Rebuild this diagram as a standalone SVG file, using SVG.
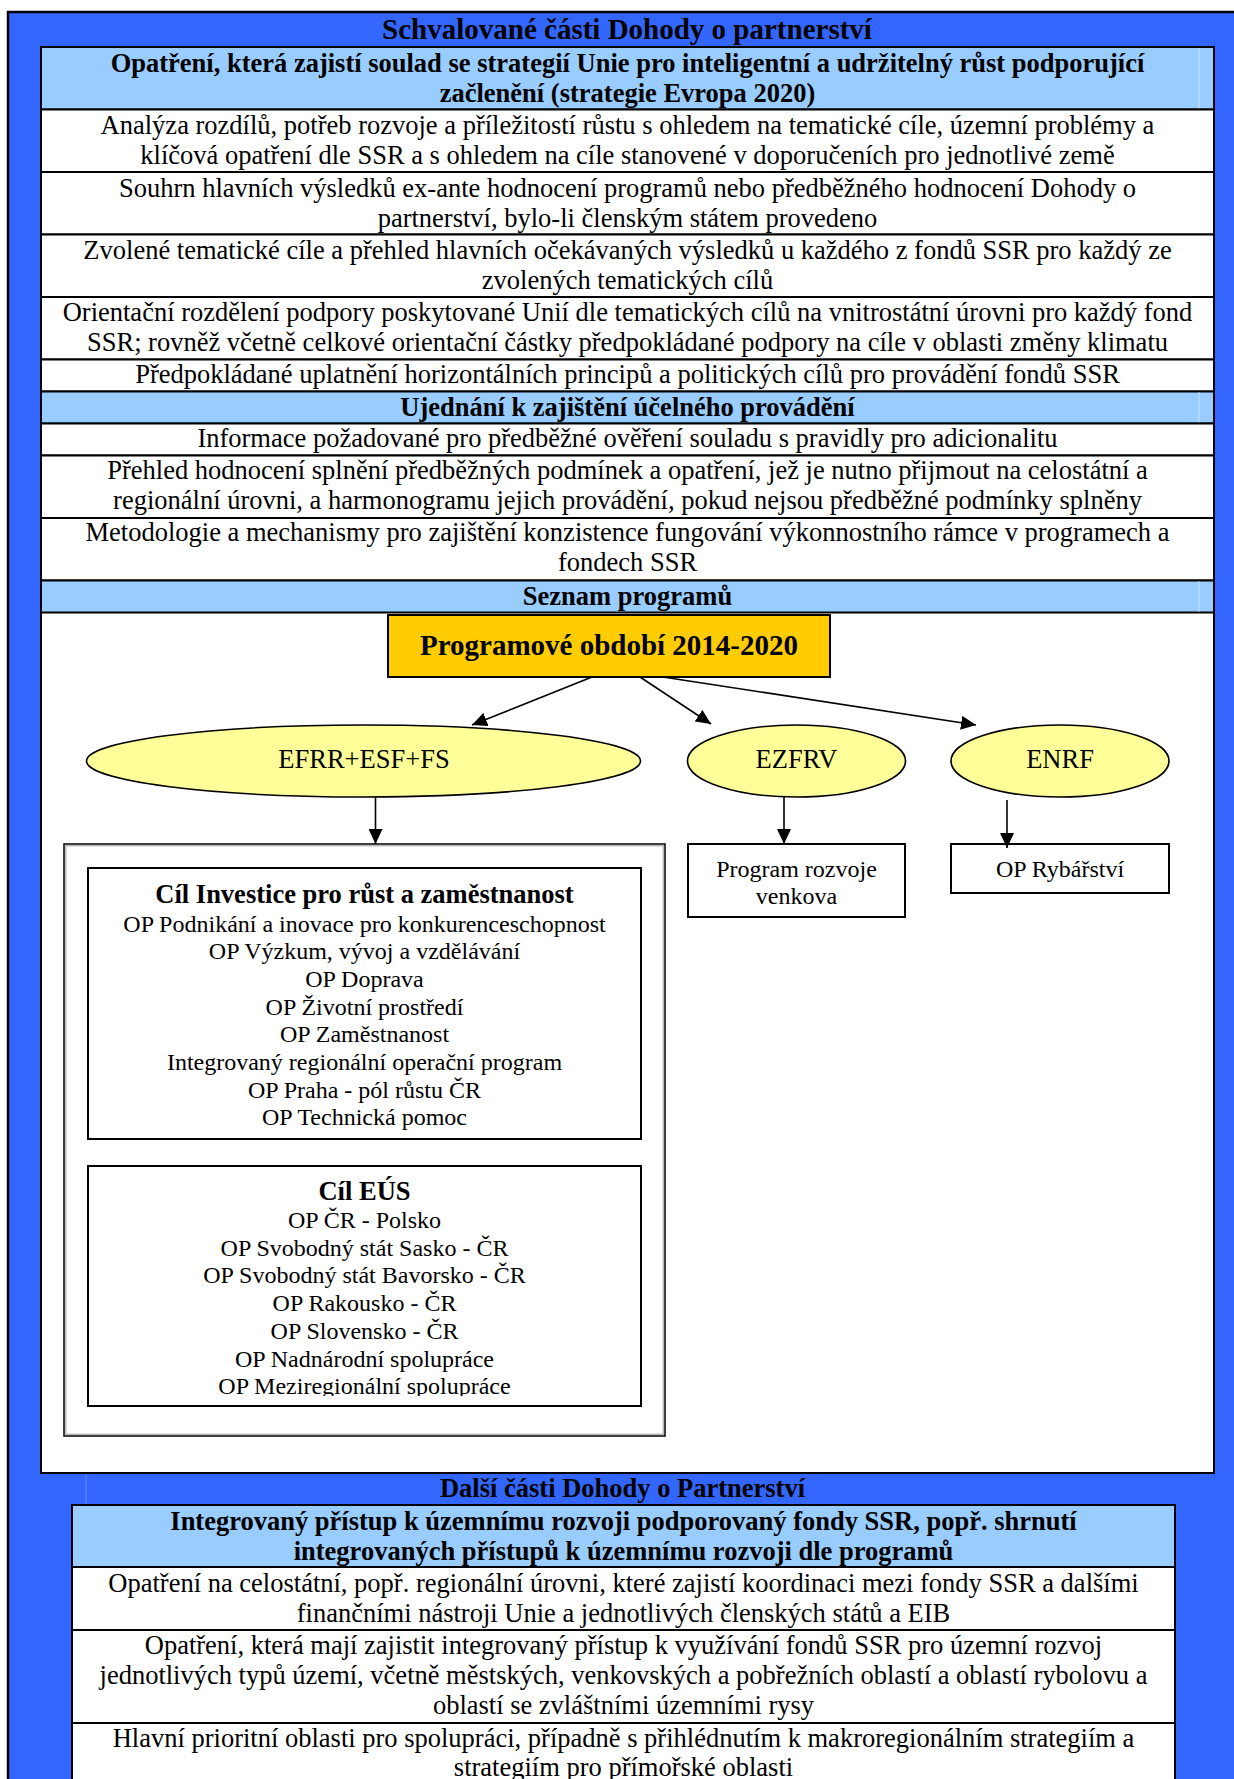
<svg xmlns="http://www.w3.org/2000/svg" width="1234" height="1779" viewBox="0 0 1234 1779">
<style>
  text { font-family: "Liberation Serif", "Times New Roman", serif; fill: #000; }
  .t { font-size: 26.5px; text-anchor: middle; }
  .b { font-weight: bold; }
  .s { font-size: 24px; text-anchor: middle; }
  .tt { font-size: 29px; font-weight: bold; text-anchor: middle; }
  .cell { fill: #FFFFFF; stroke: #000; stroke-width: 2; }
  .hdr { fill: #99CCFF; stroke: #000; stroke-width: 2; }
  .ell { fill: #FFFF99; stroke: #000; stroke-width: 1.6; }
  .box { fill: #FFFFFF; stroke: #000; stroke-width: 2; }
  .conn { stroke: #000; stroke-width: 1.6; fill: none; marker-end: url(#ah); }
  .faint { stroke: #B8DCFF; stroke-width: 1.5; }
  .faintb { stroke: #5583FF; stroke-width: 1.5; }
</style>
<defs>
  <marker id="ah" viewBox="0 0 15 14" refX="15" refY="7" markerWidth="15" markerHeight="14" markerUnits="userSpaceOnUse" orient="auto">
    <path d="M0,0 L15,7 L0,14 z" fill="#000"/>
  </marker>
  <clipPath id="eusClip"><rect x="88" y="1166" width="553" height="230"/></clipPath>
</defs>

<g id="frame">
  <rect x="8" y="12" width="1240" height="1790" fill="#3366FF" stroke="#000" stroke-width="2.5"/>
  <text class="tt" x="627" y="39">Schvalované části Dohody o partnerství</text>
</g>

<g id="table-approved">
  <rect class="cell" x="41" y="47" width="1173" height="1426" stroke-width="2.5"/>
  <rect class="hdr" x="41" y="47" width="1173" height="62.5"/>
  <line class="faint" x1="1199" y1="48" x2="1199" y2="108.5"/>
  <text class="t b" x="627.5" y="71.5">Opatření, která zajistí soulad se strategií Unie pro inteligentní a udržitelný růst podporující</text>
  <text class="t b" x="627.5" y="101.5">začlenění (strategie Evropa 2020)</text>

  <rect class="cell" x="41" y="109.5" width="1173" height="62.5"/>
  <text class="t" x="627.5" y="134">Analýza rozdílů, potřeb rozvoje a příležitostí růstu s ohledem na tematické cíle, územní problémy a</text>
  <text class="t" x="627.5" y="164">klíčová opatření dle SSR a s ohledem na cíle stanovené v doporučeních pro jednotlivé země</text>

  <rect class="cell" x="41" y="172" width="1173" height="62.5"/>
  <text class="t" x="627.5" y="196.5">Souhrn hlavních výsledků ex-ante hodnocení programů nebo předběžného hodnocení Dohody o</text>
  <text class="t" x="627.5" y="226.5">partnerství, bylo-li členským státem provedeno</text>

  <rect class="cell" x="41" y="234.5" width="1173" height="62.5"/>
  <text class="t" x="627.5" y="258.5">Zvolené tematické cíle a přehled hlavních očekávaných výsledků u každého z fondů SSR pro každý ze</text>
  <text class="t" x="627.5" y="288.5">zvolených tematických cílů</text>

  <rect class="cell" x="41" y="297" width="1173" height="62.5"/>
  <text class="t" x="627.5" y="321">Orientační rozdělení podpory poskytované Unií dle tematických cílů na vnitrostátní úrovni pro každý fond</text>
  <text class="t" x="627.5" y="351">SSR; rovněž včetně celkové orientační částky předpokládané podpory na cíle v oblasti změny klimatu</text>

  <rect class="cell" x="41" y="359.5" width="1173" height="32"/>
  <text class="t" x="627.5" y="382.5">Předpokládané uplatnění horizontálních principů a politických cílů pro provádění fondů SSR</text>

  <rect class="hdr" x="41" y="391.5" width="1173" height="32"/>
  <line class="faint" x1="1199" y1="392.5" x2="1199" y2="422.5"/>
  <text class="t b" x="627.5" y="415.5">Ujednání k zajištění účelného provádění</text>

  <rect class="cell" x="41" y="423.5" width="1173" height="32"/>
  <text class="t" x="627.5" y="446.5">Informace požadované pro předběžné ověření souladu s pravidly pro adicionalitu</text>

  <rect class="cell" x="41" y="455.5" width="1173" height="62.5"/>
  <text class="t" x="627.5" y="479">Přehled hodnocení splnění předběžných podmínek a opatření, jež je nutno přijmout na celostátní a</text>
  <text class="t" x="627.5" y="509">regionální úrovni, a harmonogramu jejich provádění, pokud nejsou předběžné podmínky splněny</text>

  <rect class="cell" x="41" y="518" width="1173" height="62.5"/>
  <text class="t" x="627.5" y="541">Metodologie a mechanismy pro zajištění konzistence fungování výkonnostního rámce v programech a</text>
  <text class="t" x="627.5" y="571">fondech SSR</text>

  <rect class="hdr" x="41" y="580.5" width="1173" height="32"/>
  <line class="faint" x1="1199" y1="581.5" x2="1199" y2="611.5"/>
  <text class="t b" x="627.5" y="605">Seznam programů</text>
</g>

<g id="node-period">
  <rect x="388" y="615" width="442" height="62" fill="#FFCC00" stroke="#000" stroke-width="2"/>
  <text class="tt" x="609" y="655">Programové období 2014-2020</text>
</g>

<g id="node-efrr">
  <ellipse class="ell" cx="363.5" cy="761" rx="277" ry="36"/>
  <text class="t" x="364" y="768">EFRR+ESF+FS</text>
</g>
<g id="node-ezfrv">
  <ellipse class="ell" cx="796.5" cy="761" rx="109" ry="36"/>
  <text class="t" x="796.5" y="768">EZFRV</text>
</g>
<g id="node-enrf">
  <ellipse class="ell" cx="1060" cy="761" rx="109" ry="36"/>
  <text class="t" x="1060" y="768">ENRF</text>
</g>

<g id="node-efrr-programs">
  <rect x="64" y="844" width="601" height="592" fill="#FFFFFF" stroke="#111" stroke-width="1.6"/>
  <rect x="65.8" y="845.8" width="597.4" height="588.4" fill="none" stroke="#9A9A9A" stroke-width="1"/>
</g>

<g id="node-investice">
  <rect class="box" x="88" y="868" width="553" height="271"/>
  <text class="t b" x="364.5" y="903">Cíl Investice pro růst a zaměstnanost</text>
  <text class="s" x="364.5" y="931.5">OP Podnikání a inovace pro konkurenceschopnost</text>
  <text class="s" x="364.5" y="959.2">OP Výzkum, vývoj a vzdělávání</text>
  <text class="s" x="364.5" y="986.9">OP Doprava</text>
  <text class="s" x="364.5" y="1014.6">OP Životní prostředí</text>
  <text class="s" x="364.5" y="1042.3">OP Zaměstnanost</text>
  <text class="s" x="364.5" y="1070">Integrovaný regionální operační program</text>
  <text class="s" x="364.5" y="1097.7">OP Praha - pól růstu ČR</text>
  <text class="s" x="364.5" y="1125.4">OP Technická pomoc</text>
</g>

<g id="node-eus">
  <rect class="box" x="88" y="1166" width="553" height="240"/>
  <g clip-path="url(#eusClip)">
    <text class="t b" x="364.5" y="1200">Cíl EÚS</text>
    <text class="s" x="364.5" y="1228">OP ČR - Polsko</text>
    <text class="s" x="364.5" y="1255.7">OP Svobodný stát Sasko - ČR</text>
    <text class="s" x="364.5" y="1283.4">OP Svobodný stát Bavorsko - ČR</text>
    <text class="s" x="364.5" y="1311.1">OP Rakousko - ČR</text>
    <text class="s" x="364.5" y="1338.8">OP Slovensko - ČR</text>
    <text class="s" x="364.5" y="1366.5">OP Nadnárodní spolupráce</text>
    <text class="s" x="364.5" y="1394.2">OP Meziregionální spolupráce</text>
  </g>
</g>

<g id="node-prv">
  <rect class="box" x="688" y="844" width="217" height="73"/>
  <text class="s" x="796.5" y="877">Program rozvoje</text>
  <text class="s" x="796.5" y="904">venkova</text>
</g>

<g id="node-ryb">
  <rect class="box" x="951" y="844" width="218" height="49"/>
  <text class="s" x="1060" y="877">OP Rybářství</text>
</g>

<g id="connectors">
  <line class="conn" x1="592" y1="677" x2="472" y2="725"/>
  <line class="conn" x1="640" y1="677" x2="711" y2="724"/>
  <line class="conn" x1="663" y1="677" x2="976" y2="725"/>
  <line class="conn" x1="375.5" y1="797" x2="375.5" y2="844"/>
  <line class="conn" x1="784" y1="797" x2="784" y2="844"/>
  <line class="conn" x1="1007" y1="800" x2="1007" y2="848"/>
</g>

<g id="section-other">
  <line class="faintb" x1="86" y1="1475" x2="86" y2="1505"/>
  <text class="t b" x="622.5" y="1497">Další části Dohody o Partnerství</text>
</g>

<g id="table-other">
  <rect class="cell" x="72" y="1505" width="1103" height="300"/>
  <rect class="hdr" x="72" y="1505" width="1103" height="62"/>
  <text class="t b" x="623.5" y="1530">Integrovaný přístup k územnímu rozvoji podporovaný fondy SSR, popř. shrnutí</text>
  <text class="t b" x="623.5" y="1560">integrovaných přístupů k územnímu rozvoji dle programů</text>

  <rect class="cell" x="72" y="1567" width="1103" height="63"/>
  <text class="t" x="623.5" y="1592">Opatření na celostátní, popř. regionální úrovni, které zajistí koordinaci mezi fondy SSR a dalšími</text>
  <text class="t" x="623.5" y="1622">finančními nástroji Unie a jednotlivých členských států a EIB</text>

  <rect class="cell" x="72" y="1630" width="1103" height="93"/>
  <text class="t" x="623.5" y="1654">Opatření, která mají zajistit integrovaný přístup k využívání fondů SSR pro územní rozvoj</text>
  <text class="t" x="623.5" y="1684">jednotlivých typů území, včetně městských, venkovských a pobřežních oblastí a oblastí rybolovu a</text>
  <text class="t" x="623.5" y="1714">oblastí se zvláštními územními rysy</text>

  <rect class="cell" x="72" y="1723" width="1103" height="100"/>
  <text class="t" x="623.5" y="1747">Hlavní prioritní oblasti pro spolupráci, případně s přihlédnutím k makroregionálním strategiím a</text>
  <text class="t" x="623.5" y="1776">strategiím pro přímořské oblasti</text>
</g>
</svg>
